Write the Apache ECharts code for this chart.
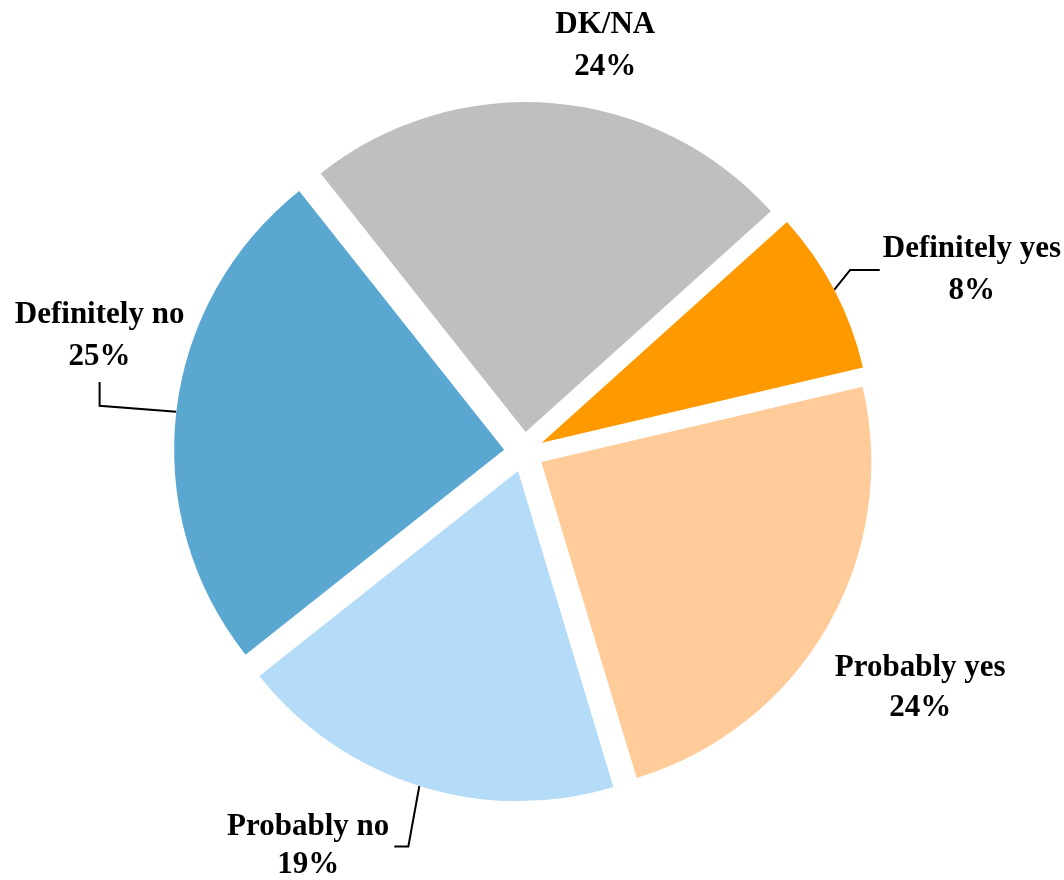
<!DOCTYPE html>
<html>
<head>
<meta charset="utf-8">
<title>Pie</title>
<script src="https://cdn.jsdelivr.net/npm/echarts@6/dist/echarts.min.js"></script>
<style>
  html, body { margin: 0; padding: 0; background: #fff; }
  #chart { width: 1064px; height: 880px; }
</style>
</head>
<body>
<div id="chart"></div>
<script>
const categories = ['Definitely yes', 'Probably yes', 'Probably no', 'Definitely no', 'DK/NA']
const shares = [8, 24, 19, 25, 24]
const colors = ['#FF9900', '#FFCC99', '#B4DCF8', '#5AA8D2', '#BFBFBF']

// label line lengths, line spacing and small nudges per slice
const lines = {
  'Definitely yes': { show: true, length: 30, length2: 12 },
  'Probably yes': { show: false, length: 10, length2: 0 },
  'Probably no': { show: true, length: 57, length2: 10 },
  'Definitely no': { show: true, length: 15, length2: 10 },
  'DK/NA': { show: false, length: 60, length2: 0 }
}
const spacing = {
  'Definitely yes': 42,
  'Probably yes': 40,
  'Probably no': 38,
  'Definitely no': 42,
  'DK/NA': 42
}
const nudge = {
  'Definitely yes': [5, -6],
  'Probably yes': [-6, 56],
  'Probably no': [2, 6],
  'Definitely no': [38, -74],
  'DK/NA': [-8, 3]
}

const myChart = echarts.init(document.getElementById('chart'))

const option = {
  animation: false,
  series: [
    {
      type: 'pie',
      center: [524, 452],
      radius: 330,
      startAngle: 42,
      clockwise: true,
      selectedMode: 'multiple',
      selectedOffset: 20,
      avoidLabelOverlap: false,
      emphasis: { disabled: true },
      label: {
        show: true,
        position: 'outside',
        overflow: 'none',
        formatter: p => p.name + '\n' + p.value + '%',
        fontFamily: 'Liberation Serif',
        fontWeight: 'bold',
        fontSize: 31,
        lineHeight: 40,
        color: '#000'
      },
      labelLine: {
        lineStyle: { color: '#000', width: 2 }
      },
      labelLayout: function (p) {
        const name = categories[p.dataIndex]
        const n = nudge[name]
        const half = p.labelRect.width / 2
        const res = {
          align: 'center',
          dx: (p.align === 'right' ? -half : half) + n[0],
          dy: n[1]
        }
        const s = p.labelLinePoints[0]
        const left = p.labelRect.x + n[0]
        const right = left + p.labelRect.width
        const midY = p.labelRect.y + p.labelRect.height / 2 + n[1]
        if (name === 'Definitely yes') {
          res.labelLinePoints = [s, [s[0] + 16, midY], [left - 3, midY]]
        } else if (name === 'Probably no') {
          res.labelLinePoints = [s, [s[0] - 11, midY], [right + 5, midY]]
        } else if (name === 'Definitely no') {
          const lx = left + half
          const bottom = p.labelRect.y + p.labelRect.height + n[1]
          res.labelLinePoints = [s, [lx, s[1] - 6], [lx, bottom + 4]]
        }
        return res
      },
      data: categories.map((name, i) => ({
        name: name,
        value: shares[i],
        selected: true,
        itemStyle: { color: colors[i] },
        label: { lineHeight: spacing[name] },
        labelLine: lines[name]
      }))
    }
  ]
}

myChart.setOption(option)

window.addEventListener('resize', () => {
  myChart.resize()
})
</script>
</body>
</html>
